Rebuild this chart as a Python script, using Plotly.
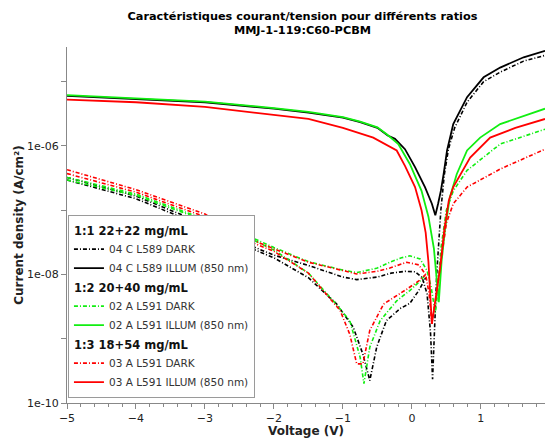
import plotly.graph_objects as go

# ---------------- data ----------------
# Voltage (V) and current density (A/cm^2)

# 1:1 22+22 mg/mL  -- 04 C L589
v_black_dark_a = [-5, -4, -3, -2.5, -2, -1.5, -1.0, -0.8, -0.5, -0.3, -0.1, 0.05, 0.15, 0.22, 0.27, 0.30,
                  0.36, 0.42, 0.47, 0.53, 0.62, 0.8, 1.04, 1.28, 1.62, 1.93]
j_black_dark_a = [3.24e-7, 1.66e-7, 6.03e-8, 3.31e-8, 2.00e-8, 1.38e-8, 9.12e-9, 8.32e-9, 9.12e-9, 1.05e-8,
                  1.12e-8, 1.10e-8, 8.91e-9, 5.01e-9, 1.26e-9, 2.34e-10,
                  1.00e-8, 1.00e-7, 3.55e-7, 8.91e-7, 1.91e-6, 4.79e-6, 1.00e-5, 1.41e-5, 2.09e-5, 2.57e-5]
v_black_dark_b = [-5, -4, -3, -2.5, -2, -1.5, -1.09, -0.85, -0.71, -0.61, -0.51, -0.37, -0.17, -0.03, 0.1, 0.2]
j_black_dark_b = [2.95e-7, 1.51e-7, 5.50e-8, 3.02e-8, 1.82e-8, 8.91e-9, 3.47e-9, 1.51e-9, 5.75e-10, 2.24e-10,
                  7.41e-10, 1.91e-9, 2.95e-9, 3.55e-9, 5.62e-9, 8.91e-9]

v_black_illum = [-5, -4, -3, -2, -1.5, -1, -0.75, -0.5, -0.35, -0.245, -0.1, 0.046, 0.19, 0.29, 0.34,
                 0.38, 0.42, 0.46, 0.51, 0.60, 0.80, 1.04, 1.28, 1.62, 1.93]
j_black_illum = [6.03e-6, 5.37e-6, 4.79e-6, 3.80e-6, 3.31e-6, 2.75e-6, 2.34e-6, 1.91e-6, 1.45e-6, 1.29e-6,
                 8.91e-7, 4.68e-7, 2.29e-7, 1.26e-7, 8.32e-8,
                 1.26e-7, 2.00e-7, 3.63e-7, 8.51e-7, 2.19e-6, 5.75e-6, 1.17e-5, 1.66e-5, 2.40e-5, 3.02e-5]

# 1:2 20+40 mg/mL  -- 02 A L591
v_green_dark_a = [-5, -4, -3, -2.5, -2, -1.5, -1.0, -0.8, -0.5, -0.32, -0.15, -0.03, 0.12, 0.22, 0.28, 0.34,
                  0.38, 0.42, 0.5, 0.6, 0.8, 1.28, 1.93]
j_green_dark_a = [3.24e-7, 1.78e-7, 7.24e-8, 4.57e-8, 2.63e-8, 1.58e-8, 1.17e-8, 1.07e-8, 1.26e-8, 1.55e-8,
                  1.82e-8, 1.95e-8, 1.74e-8, 1.15e-8, 6.31e-9, 2.51e-9,
                  6.31e-9, 2.51e-8, 1.00e-7, 2.00e-7, 4.17e-7, 1.07e-6, 1.82e-6]
v_green_dark_b = [-5, -4, -3, -2.5, -2, -1.5, -1.14, -0.90, -0.75, -0.695, -0.61, -0.46, -0.22, -0.03, 0.12, 0.2]
j_green_dark_b = [2.95e-7, 1.70e-7, 6.92e-8, 4.37e-8, 2.40e-8, 1.05e-8, 3.89e-9, 1.91e-9, 5.13e-10, 2.00e-10,
                  7.41e-10, 1.91e-9, 3.89e-9, 5.62e-9, 7.94e-9, 1.00e-8]

v_green_illum = [-5, -4, -3, -2, -1.5, -1, -0.75, -0.5, -0.35, -0.197, -0.03, 0.14, 0.24, 0.32, 0.39,
                 0.43, 0.48, 0.55, 0.65, 0.80, 0.99, 1.28, 1.93]
j_green_illum = [6.17e-6, 5.50e-6, 4.90e-6, 3.89e-6, 3.39e-6, 2.82e-6, 2.40e-6, 1.95e-6, 1.48e-6, 1.07e-6,
                 5.25e-7, 2.00e-7, 7.94e-8, 2.51e-8, 3.72e-9,
                 1.58e-8, 5.01e-8, 1.58e-7, 3.63e-7, 8.51e-7, 1.35e-6, 2.19e-6, 3.80e-6]

# 1:3 18+54 mg/mL  -- 03 A L591
v_red_dark_a = [-5, -4, -3, -2.5, -2, -1.5, -1.0, -0.8, -0.5, -0.32, -0.075, 0.1, 0.2, 0.25, 0.29,
                0.33, 0.37, 0.42, 0.5, 0.6, 0.8, 1.28, 1.93]
j_red_dark_a = [4.27e-7, 2.09e-7, 8.71e-8, 4.17e-8, 2.51e-8, 1.55e-8, 1.15e-8, 1.02e-8, 1.12e-8, 1.26e-8,
                1.55e-8, 1.41e-8, 1.00e-8, 5.01e-9, 1.70e-9,
                3.16e-9, 6.31e-9, 1.58e-8, 6.31e-8, 1.26e-7, 2.29e-7, 4.37e-7, 8.91e-7]
v_red_dark_b = [-5, -4, -3, -2.5, -2, -1.5, -1.04, -0.90, -0.80, -0.71, -0.61, -0.41, -0.075, 0.1, 0.2]
j_red_dark_b = [3.72e-7, 1.91e-7, 7.94e-8, 3.80e-8, 2.29e-8, 1.05e-8, 2.75e-9, 1.17e-9, 4.07e-10, 4.07e-10,
                1.35e-9, 3.47e-9, 5.89e-9, 7.94e-9, 1.00e-8]

v_red_illum = [-5, -4, -3, -2, -1.5, -1, -0.56, -0.22, -0.1, 0.046, 0.14, 0.2, 0.24, 0.29,
               0.35, 0.41, 0.47, 0.535, 0.60, 0.845, 1.135, 1.5, 1.93]
j_red_illum = [5.25e-6, 4.79e-6, 4.07e-6, 3.09e-6, 2.63e-6, 1.91e-6, 1.35e-6, 8.51e-7, 4.90e-7, 2.29e-7,
               1.00e-7, 4.47e-8, 1.58e-8, 1.70e-9,
               5.01e-9, 1.29e-8, 5.01e-8, 1.41e-7, 2.29e-7, 6.61e-7, 1.35e-6, 1.91e-6, 2.63e-6]

group_titles = ["1:1 22+22 mg/mL", "1:2 20+40 mg/mL", "1:3 18+54 mg/mL"]
dark_names = ["04 C L589 DARK", "02 A L591 DARK", "03 A L591 DARK"]
illum_names = ["04 C L589 ILLUM (850 nm)", "02 A L591 ILLUM (850 nm)", "03 A L591 ILLUM (850 nm)"]
colors = ["#000000", "#11ee11", "#ff0000"]

x_tick_vals = [-5, -4, -3, -2, -1, 0, 1]
y_tick_vals = [1e-10, 1e-9, 1e-8, 1e-7, 1e-6, 1e-5]
y_tick_text = ["1e-10", "", "1e-08", "", "1e-06", ""]

dark_sets = [
    (v_black_dark_a, j_black_dark_a, v_black_dark_b, j_black_dark_b),
    (v_green_dark_a, j_green_dark_a, v_green_dark_b, j_green_dark_b),
    (v_red_dark_a, j_red_dark_a, v_red_dark_b, j_red_dark_b),
]
illum_sets = [
    (v_black_illum, j_black_illum),
    (v_green_illum, j_green_illum),
    (v_red_illum, j_red_illum),
]

# ---------------- figure ----------------
fig = go.Figure()
for i in range(3):
    va, ja, vb, jb = dark_sets[i]
    fig.add_trace(go.Scatter(
        x=va + [None] + vb, y=ja + [None] + jb, mode="lines",
        name=dark_names[i], legendgroup="g%d" % i,
        legendgrouptitle=dict(text="<b>%s</b>" % group_titles[i],
                              font=dict(size=11.5, color="#111111")),
        line=dict(color=colors[i], width=1.6, dash="4px,2px,1px,2px"),
        connectgaps=False,
    ))
    vi, ji = illum_sets[i]
    fig.add_trace(go.Scatter(
        x=vi, y=ji, mode="lines",
        name=illum_names[i], legendgroup="g%d" % i,
        line=dict(color=colors[i], width=1.8),
    ))

fig.update_layout(
    width=545, height=438,
    paper_bgcolor="white", plot_bgcolor="white",
    margin=dict(l=67, r=0, t=47, b=35),
    font=dict(family="DejaVu Sans", size=11, color="#222222"),
    title=dict(
        text="<b>Caractéristiques courant/tension pour différents ratios<br>MMJ-1-119:C60-PCBM</b>",
        x=0.555, xanchor="center", y=1 - 19.5 / 438, yanchor="middle",
        font=dict(family="DejaVu Sans", size=11.3, color="#000000"),
    ),
    showlegend=True,
    legend=dict(
        x=0.002, y=0.015, xanchor="left", yanchor="bottom",
        bgcolor="white", bordercolor="#9a9a9a", borderwidth=1,
        font=dict(size=10.5, color="#333333"),
        tracegroupgap=0, itemwidth=30, traceorder="grouped",
    ),
)

fig.update_xaxes(
    range=[-5, 1.93], tickvals=x_tick_vals, automargin=False,
    ticks="outside", ticklen=5, tickcolor="#888888",
    showline=True, linecolor="#888888", linewidth=1,
    showgrid=False, zeroline=False,
    minor=dict(dtick=0.2, ticks="outside", ticklen=3, tickcolor="#888888", showgrid=False),
    title=dict(text="<b>Voltage (V)</b>", font=dict(size=12, color="#222222"), standoff=2),
    tickfont=dict(size=11, color="#222222"),
)
fig.update_yaxes(
    type="log", range=[-10, -4.46], automargin=False,
    tickvals=y_tick_vals, ticktext=y_tick_text,
    ticks="outside", ticklen=5, tickcolor="#888888",
    showline=True, linecolor="#888888", linewidth=1,
    showgrid=False, zeroline=False,
    title=dict(text="<b>Current density (A/cm²)</b>", font=dict(size=12, color="#222222"), standoff=0),
    tickfont=dict(size=11, color="#222222"),
)

fig.write_html("out.html", config={"displayModeBar": False},
               post_script="document.body.style.margin='0px';")
